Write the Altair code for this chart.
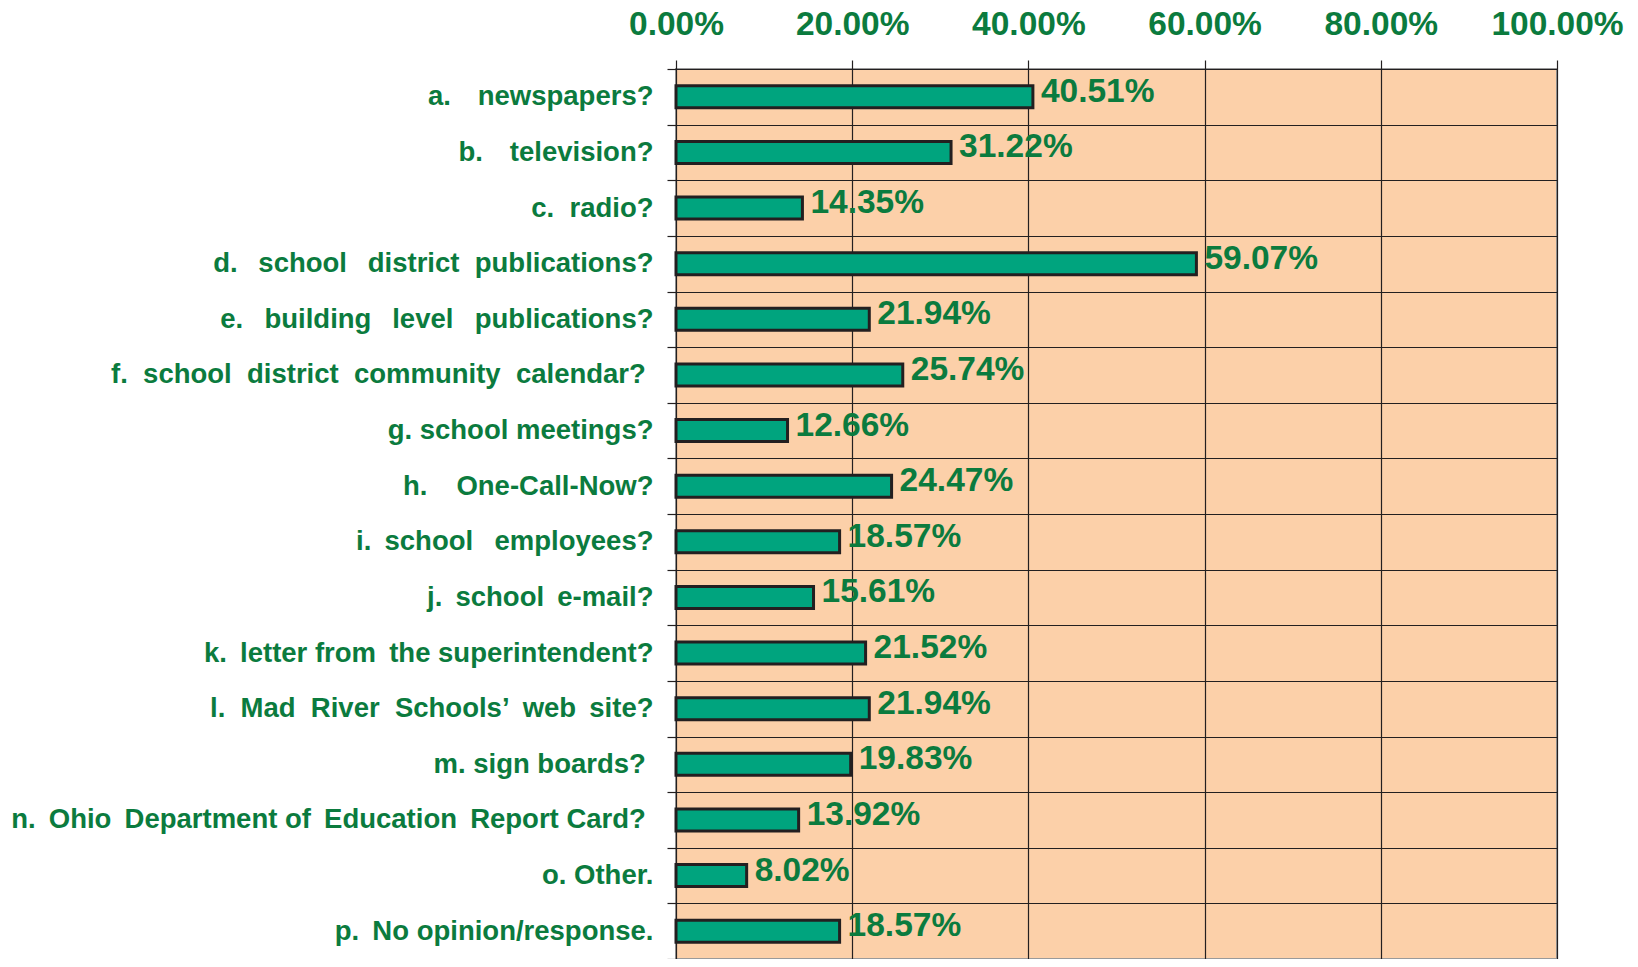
import altair as alt
import pandas as pd

NB = "\u00a0"
EN = "\u2002"
TH = "\u2009"
END = "\u00a0\u200b"

categories = [
    "a." + EN + TH + " newspapers?",
    "b." + EN + TH + " television?",
    "c." + NB + " radio?",
    "d." + NB + TH + " school" + NB + TH + " district" + NB + " publications?",
    "e." + EN + " building" + NB + TH + " level" + EN + " publications?",
    "f." + NB + " school" + NB + " district" + NB + " community" + NB + " calendar?" + END,
    "g. school meetings?",
    "h." + EN + NB + " One-Call-Now?",
    "i." + TH + " school" + EN + " employees?",
    "j." + TH + " school" + TH + " e-mail?",
    "k." + TH + " letter from" + TH + " the superintendent?",
    "l." + NB + " Mad" + NB + " River" + NB + " Schools\u2019" + TH + " web" + TH + " site?",
    "m. sign boards?" + END,
    "n." + TH + " Ohio" + TH + " Department of" + TH + " Education" + TH + " Report Card?" + END,
    "o. Other.",
    "p." + TH + " No opinion/response.",
]
values = [40.51, 31.22, 14.35, 59.07, 21.94, 25.74, 12.66, 24.47,
          18.57, 15.61, 21.52, 21.94, 19.83, 13.92, 8.02, 18.57]
x_ticks = [0.0, 0.2, 0.4, 0.6, 0.8, 1.0]

GREEN = "#0B7B3E"
BAR = "#00A47E"
BG = "#FCD0A9"
DARK = "#231F20"
FONT = "Liberation Sans"

df = pd.DataFrame({"cat": categories, "val": [v / 100 for v in values]})

y_enc = alt.Y(
    "cat:N",
    sort=categories,
    title=None,
    scale=alt.Scale(paddingInner=0, paddingOuter=0),
    axis=alt.Axis(
        tickBand="extent",
        grid=True,
        gridColor=DARK,
        gridWidth=1.2,
        domain=False,
        ticks=True,
        tickColor=DARK,
        tickSize=9,
        tickWidth=1.2,
        labelFont=FONT,
        labelFontSize=27.5,
        labelFontWeight="bold",
        labelColor=GREEN,
        labelPadding=14,
        labelLimit=0,
    ),
)

x_enc = alt.X(
    "val:Q",
    title=None,
    scale=alt.Scale(domain=[0, 1], nice=False, zero=True),
    axis=alt.Axis(
        orient="top",
        values=x_ticks,
        format=".2%",
        grid=True,
        gridColor=DARK,
        gridWidth=1.2,
        domain=True,
        domainColor=DARK,
        domainWidth=1.2,
        tickColor=DARK,
        tickSize=9,
        tickWidth=1.2,
        labelFont=FONT,
        labelFontSize=33.5,
        labelFontWeight="bold",
        labelColor=GREEN,
        labelPadding=19,
        labelFlush=False,
        labelOverlap=False,
    ),
)

base = alt.Chart(df).encode(x=x_enc, y=y_enc)

bars = base.mark_bar(color=BAR, stroke=DARK, strokeWidth=3, size=22)

labels = base.mark_text(
    align="left", baseline="middle", dx=8, dy=-5,
    font=FONT, fontSize=33.5, fontWeight="bold", color=GREEN
).encode(text=alt.Text("val:Q", format=".2%"))

chart = (
    alt.layer(bars, labels)
    .properties(
        width=881,
        height=890,
        autosize=alt.AutoSizeParams(type="none"),
        padding={"left": 668, "top": 61, "right": 73, "bottom": 0},
        background="white",
    )
    .configure_view(fill=BG, stroke="#9A9A9A", strokeWidth=2)
)

chart.save("out.html", embed_options={"renderer": "svg", "actions": False})
